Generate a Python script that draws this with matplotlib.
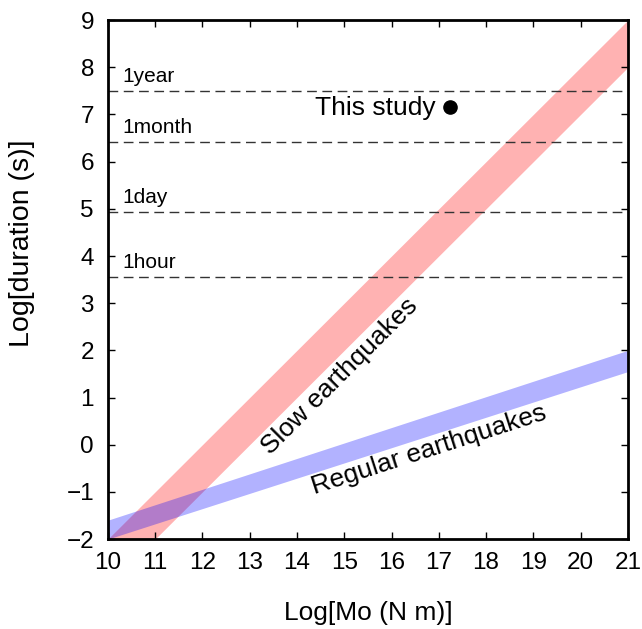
import numpy as np
import matplotlib
matplotlib.use('Agg')
import matplotlib.pyplot as plt

plt.rcParams['font.family'] = ['Liberation Sans', 'DejaVu Sans']

# band edges (log Mo -> log duration)
mo_edges = [10, 21]
slow_upper = [-2.0, 9.0]
slow_lower = [-3.0, 8.0]
regular_upper = [-1.6, 2.0]
regular_lower = [-2.0, 1.55]

# reference durations
time_labels = ['1hour', '1day', '1month', '1year']
time_values = [np.log10(3600), np.log10(86400), np.log10(30 * 86400), np.log10(365.25 * 86400)]

# this study
study_mo = 17.23
study_dur = 7.16

fig = plt.figure(figsize=(6.42, 6.29), dpi=100)
ax = fig.add_axes([0.168, 0.143, 0.810, 0.825])

ax.fill_between(mo_edges, slow_lower, slow_upper, color='red', alpha=0.3, lw=0)
ax.fill_between(mo_edges, regular_lower, regular_upper, color='blue', alpha=0.3, lw=0)

for lab, val in zip(time_labels, time_values):
    ax.axhline(val, color='#333333', lw=1, ls=(0, (7, 4)))
    ax.text(10.3, val + 0.19, lab, fontsize=15, ha='left', va='baseline')

ax.plot(study_mo, study_dur, 'o', color='black', ms=9.5)
ax.text(16.93, 6.99, 'This study', fontsize=19, ha='right', va='baseline')

ax.text(14.9, 1.45, 'Slow earthquakes', fontsize=19, rotation=45,
        ha='center', va='center', rotation_mode='anchor')
ax.text(16.8, -0.1, 'Regular earthquakes', fontsize=19, rotation=17.9,
        ha='center', va='center', rotation_mode='anchor')

ax.set_xlim(10, 21)
ax.set_ylim(-2, 9)
ax.set_xticks(range(10, 22))
ax.set_yticks(range(-2, 10))
ax.set_yticklabels(['\u22122', '\u22121'] + [str(i) for i in range(0, 10)])
ax.tick_params(direction='in', length=5, width=1, labelsize=17.5, top=True, right=True)
ax.tick_params(axis='y', pad=10)
ax.tick_params(axis='x', pad=9)
for s in ax.spines.values():
    s.set_linewidth(2)

ax.set_xlabel('Log[Mo (N m)]', fontsize=19)
ax.set_ylabel('Log[duration (s)]', fontsize=20.5)
ax.xaxis.set_label_coords(0.5, -0.12)
ax.yaxis.set_label_coords(-0.14, 0.57)

fig.savefig('out.png', dpi=100)
